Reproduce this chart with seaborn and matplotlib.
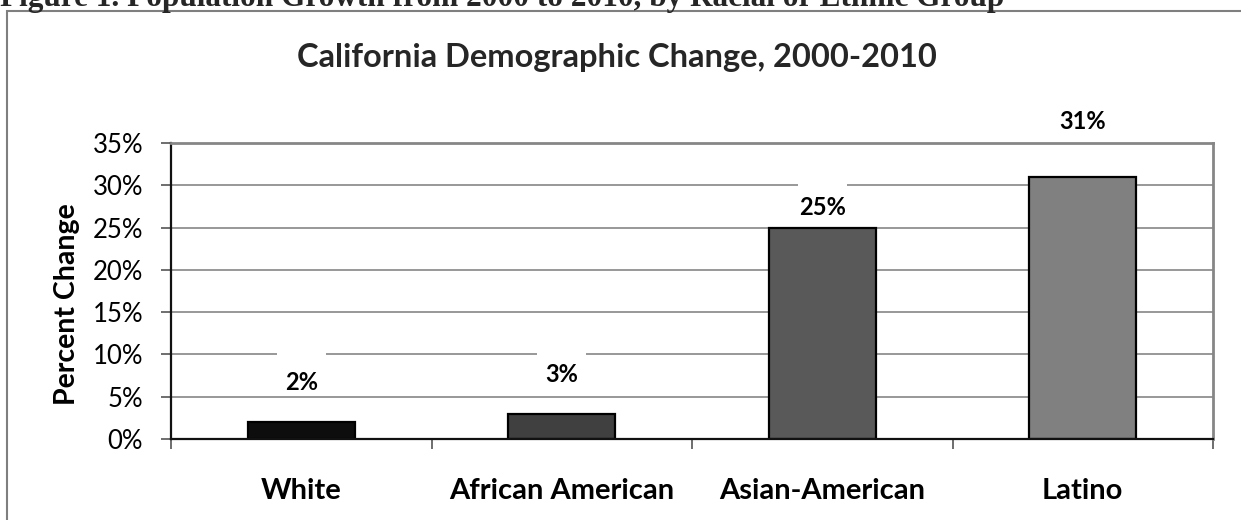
import matplotlib
matplotlib.use("Agg")
import matplotlib.pyplot as plt
import seaborn as sns
from matplotlib.patches import Rectangle
from matplotlib.ticker import FixedLocator, PercentFormatter
from matplotlib.transforms import ScaledTranslation

HEADER = "Figure 1. Population Growth from 2000 to 2010, by Racial or Ethnic Group"
TITLE = "California Demographic Change, 2000-2010"
Y_LABEL = "Percent Change"

GROUPS = ["White", "African American", "Asian-American", "Latino"]
PCT_CHANGE = [2, 3, 25, 31]
BAR_COLORS = ["#0d0d0d", "#404040", "#595959", "#808080"]
Y_TICKS = [0, 5, 10, 15, 20, 25, 30, 35]

# label lift above each bar top, in pixels (hand-placed in the original)
LABEL_LIFT = [40, 39, 20, 55]

FONT = "Lato"
GRID = "#868686"
DPI = 100

sns.set_theme(style="whitegrid")
plt.rcParams["font.family"] = [FONT, "DejaVu Sans"]

fig = plt.figure(figsize=(12.41, 5.20), dpi=DPI)
ax = fig.add_axes([171 / 1241, 1 - 439 / 520, 1042 / 1241, 296 / 520])

sns.barplot(
    x=GROUPS,
    y=PCT_CHANGE,
    hue=GROUPS,
    palette=BAR_COLORS,
    legend=False,
    width=0.41,
    edgecolor="black",
    linewidth=1.6,
    saturation=1,
    ax=ax,
)

ax.set_ylim(0, 35)
ax.set_xlim(-0.5, len(GROUPS) - 0.5)
ax.yaxis.set_major_locator(FixedLocator(Y_TICKS))
ax.yaxis.set_major_formatter(PercentFormatter(decimals=0))
ax.tick_params(axis="y", length=7, width=1.2, color="#555555", pad=13,
               labelsize=18.5, labelcolor="black", left=True)
ax.set_xticks(range(len(GROUPS)), GROUPS, fontweight="bold")
ax.tick_params(axis="x", which="major", length=0, pad=28, labelsize=21,
               labelcolor="black")
ax.set_xticks([i - 0.5 for i in range(len(GROUPS) + 1)], minor=True)
ax.tick_params(axis="x", which="minor", length=7, width=1.2, color="#555555",
               bottom=True)

ax.grid(axis="y", color=GRID, linewidth=1.2)
ax.grid(axis="x", visible=False)
ax.set_axisbelow(True)

for side in ["top", "right"]:
    ax.spines[side].set_color(GRID)
    ax.spines[side].set_linewidth(2)
for side in ["left", "bottom"]:
    ax.spines[side].set_color("#111111")
    ax.spines[side].set_linewidth(1.6)

ax.set_xlabel("")
ax.set_ylabel(Y_LABEL, fontsize=20.5, fontweight="bold", color="black")
ax.yaxis.set_label_coords(-0.087, 0.456)

for i, (val, lift) in enumerate(zip(PCT_CHANGE, LABEL_LIFT)):
    # white label box (Excel style) that knocks out the gridline behind it
    shift = ScaledTranslation(0, (lift - 11) / DPI, fig.dpi_scale_trans)
    ax.add_patch(Rectangle((i - 0.095, val), 0.19, 5.0,
                           transform=ax.transData + shift,
                           facecolor="white", edgecolor="none",
                           zorder=2, clip_on=False))
    ax.annotate(f"{val}%", (i, val), xytext=(0, lift), textcoords="offset pixels",
                ha="center", va="center", fontsize=17, fontweight="bold",
                color="black", annotation_clip=False, zorder=3)

fig.text(617 / 1241, 1 - 58 / 520, TITLE, ha="center", va="center",
         fontsize=23.5, fontweight="bold")

fig.text(0.0, 1 - 6 / 520, HEADER, ha="left", va="baseline",
         fontsize=22.5, fontweight="bold", family="Liberation Serif")

fig.add_artist(Rectangle((7 / 1241, -0.2), 1.2, 1.2 - 11 / 520,
                         transform=fig.transFigure, fill=False,
                         edgecolor="#7f7f7f", linewidth=1.5))

fig.savefig("out.png", dpi=DPI)
